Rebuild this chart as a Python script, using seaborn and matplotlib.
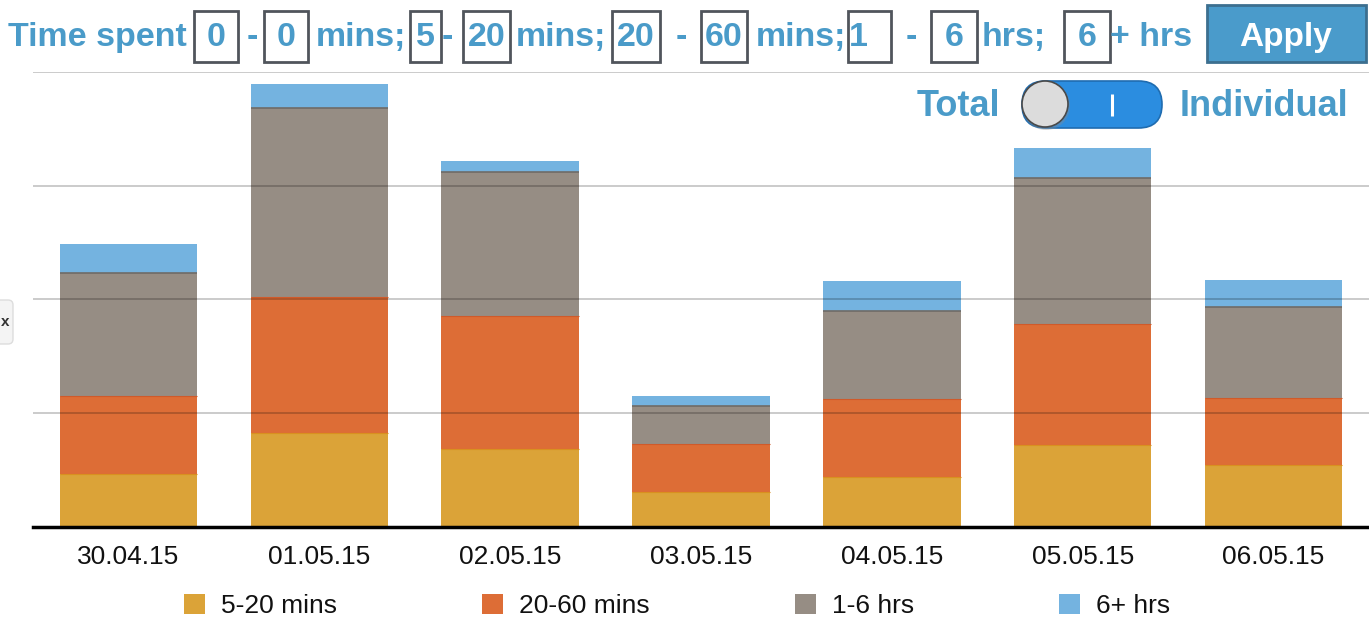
# plot.py - stacked time-spent bars with the filter header

import numpy as np
import pandas as pd
import matplotlib
matplotlib.use('Agg')
import matplotlib.pyplot as plt
from matplotlib.patches import Rectangle, FancyBboxPatch, Circle, Patch
import seaborn as sns

# Data
dates = ['30.04.15', '01.05.15', '02.05.15', '03.05.15', '04.05.15', '05.05.15', '06.05.15']
mins_5_20 = [4.6, 8.2, 6.8, 3.0, 4.4, 7.2, 5.4]
mins_20_60 = [6.9, 12.0, 11.7, 4.3, 6.8, 10.6, 5.9]
hrs_1_6 = [10.8, 16.6, 12.7, 3.3, 7.8, 12.9, 8.0]
hrs_6_plus = [2.6, 2.1, 1.0, 0.9, 2.6, 2.6, 2.4]
series_names = ['5-20 mins', '20-60 mins', '1-6 hrs', '6+ hrs']
series_colors = ['#dba338', '#dd6d36', '#968d84', '#74b3e0']

sns.set_style('white')
plt.rcParams['font.family'] = ['Liberation Sans', 'DejaVu Sans']

W, H = 1369, 622
fig = plt.figure(figsize=(W / 100, H / 100), dpi=100)

# Main axes (pixel box: x 33..1369, y 72..526.5)
ax = fig.add_axes([33 / W, (H - 526.5) / H, (W - 33) / W, (526.5 - 72) / H])

df = pd.DataFrame({'date': dates, '5-20 mins': mins_5_20, '20-60 mins': mins_20_60,
                   '1-6 hrs': hrs_1_6, '6+ hrs': hrs_6_plus})
cum = df[series_names].cumsum(axis=1)

# Draw tallest layer first so each lower layer sits on top of it
for name, color in reversed(list(zip(series_names, series_colors))):
    sns.barplot(x=df['date'], y=cum[name], color=color, saturation=1,
                width=0.72, errorbar=None, ax=ax, zorder=2,
                edgecolor='none', linewidth=0)

# thin darker line on top of the grey / orange / yellow segments
pos = np.arange(len(dates))
ax.hlines(cum['1-6 hrs'], pos - 0.36, pos + 0.36, color='#6f6b67', lw=1.2, zorder=3)
ax.hlines(cum['20-60 mins'], pos - 0.36, pos + 0.36, color='#cf5a2a', lw=0.8, zorder=3)
ax.hlines(cum['5-20 mins'], pos - 0.36, pos + 0.36, color='#d9901f', lw=0.8, zorder=3)

ax.set_xlim(-0.5, 6.5)
ax.set_ylim(0, 40)
ax.set_xlabel('')
ax.set_ylabel('')
ax.set_yticks([])
for y in [10, 20, 30, 40]:
    ax.axhline(y, color='black', alpha=0.22, lw=1.3, zorder=4)

for s in ['top', 'left', 'right']:
    ax.spines[s].set_visible(False)
ax.spines['bottom'].set_color('black')
ax.spines['bottom'].set_linewidth(2.5)
ax.spines['bottom'].set_zorder(5)
ax.tick_params(axis='x', length=0, labelsize=19, pad=13, colors='#111111')

# Legend
handles = [Patch(facecolor=c, edgecolor='none') for c in series_colors]
fig.legend(handles, series_names, loc='center', bbox_to_anchor=(677 / W, 1 - 606 / H),
           ncol=4, frameon=False, fontsize=19, handlelength=0.8, handleheight=0.8,
           handletextpad=0.6, columnspacing=5.5, labelcolor='#111111')

# Overlay in pixel coordinates for the header controls
ov = fig.add_axes([0, 0, 1, 1], zorder=10)
ov.set_xlim(0, W)
ov.set_ylim(H, 0)
ov.axis('off')
ov.patch.set_alpha(0)

blue = '#4a9bc9'
hs = 24.5
base = 46

# Input boxes (x0, x1)
boxes = [(194, 238), (264, 308), (410, 441), (463, 510), (612, 660),
         (701, 747), (848, 891), (931, 977), (1064, 1110)]
for x0, x1 in boxes:
    ov.add_patch(Rectangle((x0, 11), x1 - x0, 51, fill=False, edgecolor='#50555c', lw=2))

# left aligned words
for x, t in [(8, 'Time spent'), (316, 'mins;'), (516, 'mins;'), (756, 'mins;'),
             (982, 'hrs;'), (1110, '+ hrs')]:
    ov.text(x, base, t, color=blue, fontsize=hs, fontweight='bold', ha='left', va='baseline')

# centered numbers and dashes
for x, t in [(216, '0'), (252, '-'), (286, '0'), (425, '5'), (447, '-'), (487, '20'),
             (636, '20'), (681, '-'), (724, '60'), (858, '1'), (911, '-'),
             (954, '6'), (1087, '6')]:
    ov.text(x, base, t, color=blue, fontsize=hs, fontweight='bold', ha='center', va='baseline')

# Apply button
ov.add_patch(Rectangle((1207, 5), 159, 57, facecolor='#4a9bcb', edgecolor='#3c6f8f', lw=2))
ov.text(1286, base, 'Apply', color='white', fontsize=24, fontweight='bold', ha='center', va='baseline')

# Total / Individual toggle
ov.text(917, 116, 'Total', color=blue, fontsize=26, fontweight='bold', ha='left', va='baseline')
ov.text(1180, 116, 'Individual', color=blue, fontsize=26, fontweight='bold', ha='left', va='baseline')
ov.add_patch(FancyBboxPatch((1022, 81), 140, 47, boxstyle='round,pad=0,rounding_size=23.5',
                            facecolor='#2b8de0', edgecolor='#1f6cb0', lw=1.2))
ov.add_patch(Circle((1046, 106), 24, facecolor='#8a8a8a', edgecolor='none', alpha=0.35))
ov.add_patch(Circle((1045, 104), 23, facecolor='#dcdcdc', edgecolor='#4a4a4a', lw=1.2))
ov.plot([1112, 1112], [94, 116], color='white', lw=2.2, solid_capstyle='butt')

# little collapse tab on the left edge
ov.add_patch(FancyBboxPatch((-10, 300), 23, 44, boxstyle='round,pad=0,rounding_size=5',
                            facecolor='#f4f4f4', edgecolor='#dddddd', lw=1))
ov.text(5, 322, 'x', color='#333333', fontsize=11, fontweight='bold', ha='center', va='center')

fig.savefig('out.png', dpi=100)
